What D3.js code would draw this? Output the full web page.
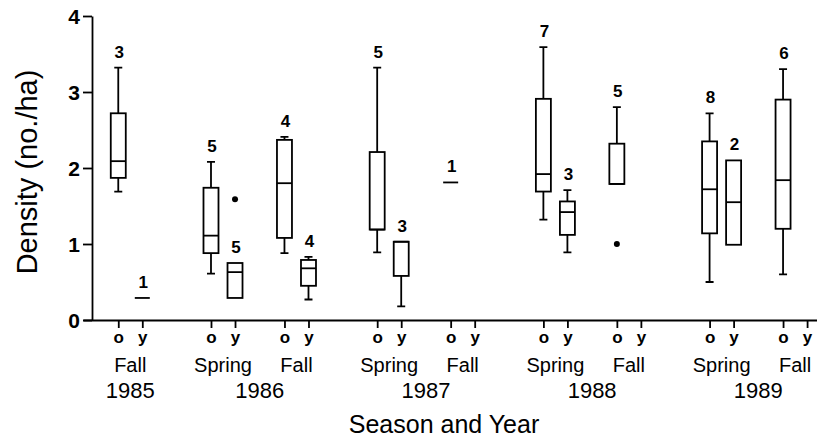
<!DOCTYPE html>
<html>
<head>
<meta charset="utf-8">
<script src="https://cdn.jsdelivr.net/npm/d3@7"></script>
<style>
  body { margin: 0; background: #fff; }
  text { font-family: "Liberation Sans", Arial, sans-serif; fill: #000; }
</style>
</head>
<body>
<svg id="chart" width="817" height="440"></svg>
<script>
// seasons along the x axis
const seasons = ['Fall', 'Spring', 'Fall', 'Spring', 'Fall', 'Spring', 'Fall', 'Spring', 'Fall'];
const seasonYears = [1985, 1986, 1986, 1987, 1987, 1988, 1988, 1989, 1989];
const ages = ['o', 'y'];
const yTicks = [0, 1, 2, 3, 4];

// one entry per box: season index, age class, sample size and five numbers
const boxSeason = [0, 0, 1, 1, 2, 2, 3, 3, 4, 5, 5, 6, 7, 7, 8];
const boxAge    = ['o', 'y', 'o', 'y', 'o', 'y', 'o', 'y', 'o', 'o', 'y', 'o', 'o', 'y', 'o'];
const boxN      = [3, 1, 5, 5, 4, 4, 5, 3, 1, 7, 3, 5, 8, 2, 6];
const boxLow    = [1.69, 0.29, 0.61, 0.29, 0.88, 0.27, 0.89, 0.18, 1.81, 1.32, 0.89, 1.79, 0.50, 0.99, 0.60];
const boxQ1     = [1.87, 0.29, 0.88, 0.29, 1.08, 0.45, 1.19, 0.58, 1.81, 1.69, 1.12, 1.79, 1.14, 0.99, 1.20];
const boxMedian = [2.09, 0.29, 1.11, 0.63, 1.80, 0.68, 1.19, 1.03, 1.81, 1.92, 1.42, 1.79, 1.72, 1.55, 1.84];
const boxQ3     = [2.72, 0.29, 1.74, 0.75, 2.37, 0.79, 2.21, 1.03, 1.81, 2.91, 1.56, 2.32, 2.35, 2.10, 2.90];
const boxHigh   = [3.32, 0.29, 2.08, 0.75, 2.41, 0.83, 3.32, 1.03, 1.81, 3.59, 1.71, 2.80, 2.72, 2.10, 3.30];

// outlying points (index of box, value)
const outlierBox   = [3, 11];
const outlierValue = [1.59, 1.00];

const yearGap = 0.262;   // extra spacing between years (in season units)
const ageOffset = 0.327; // offset of "y" from "o" (in season units)
const boxHalf = 7.5, capHalf = 4;

const svg = d3.select('#chart');

const y = d3.scaleLinear().domain([0, 4]).range([320, 16]);
const x = d3.scaleLinear().domain([-0.48, 9.51]).range([83, 817]);

const slot = i => i + yearGap * (seasonYears[i] - 1985);
const tickPos = (i, age) => slot(i) + (age === 'y' ? ageOffset : 0);

const tickVals = [];
seasons.forEach((s, i) => ages.forEach(a => tickVals.push(tickPos(i, a))));

// y axis
const yAxis = svg.append('g')
  .attr('transform', 'translate(92,0)')
  .call(d3.axisLeft(y).tickValues(yTicks).tickFormat(d3.format('d')).tickSize(9).tickSizeOuter(0).tickPadding(3));
yAxis.selectAll('text').attr('font-size', 21).attr('font-weight', 'bold').attr('dy', '0.36em');

// x axis
const xAxis = svg.append('g')
  .attr('transform', 'translate(0,320)')
  .call(d3.axisBottom(x).tickValues(tickVals).tickFormat((d, i) => ages[i % 2]).tickSize(8).tickSizeOuter(0));
xAxis.selectAll('text').attr('font-size', 17).attr('font-weight', 'bold').attr('y', 23).attr('dy', 0);

svg.selectAll('.domain, .tick line').attr('stroke', '#000').attr('stroke-width', 1.8);

// season labels
svg.selectAll('.season').data(seasons).join('text')
  .attr('class', 'season')
  .attr('x', (d, i) => x(slot(i) + ageOffset / 2))
  .attr('y', 372)
  .attr('text-anchor', 'middle')
  .attr('font-size', 20)
  .text(d => d);

// year labels
const yearList = Array.from(new Set(seasonYears));
svg.selectAll('.year').data(yearList).join('text')
  .attr('class', 'year')
  .attr('x', yr => {
    const idx = seasonYears.map((v, i) => v === yr ? i : -1).filter(i => i >= 0);
    const lo = x(tickPos(d3.min(idx), 'o')), hi = x(tickPos(d3.max(idx), 'y'));
    return (lo + hi) / 2;
  })
  .attr('y', 398)
  .attr('text-anchor', 'middle')
  .attr('font-size', 22)
  .text(d => d);

// axis titles
svg.append('text')
  .attr('x', 444).attr('y', 433)
  .attr('text-anchor', 'middle')
  .attr('font-size', 25)
  .text('Season and Year');

svg.append('text')
  .attr('transform', 'translate(37,172) rotate(-90)')
  .attr('text-anchor', 'middle')
  .attr('font-size', 29)
  .text('Density (no./ha)');

// boxes
const boxes = boxN.map((n, j) => ({
  cx: x(tickPos(boxSeason[j], boxAge[j])),
  n, lo: boxLow[j], q1: boxQ1[j], med: boxMedian[j], q3: boxQ3[j], hi: boxHigh[j]
}));

const g = svg.append('g').attr('stroke', '#000').attr('stroke-width', 1.8).attr('fill', 'none');

g.selectAll('.box').data(boxes.filter(d => d.q3 > d.q1)).join('rect')
  .attr('class', 'box')
  .attr('x', d => d.cx - boxHalf)
  .attr('width', boxHalf * 2)
  .attr('y', d => y(d.q3))
  .attr('height', d => y(d.q1) - y(d.q3));

g.selectAll('.median').data(boxes).join('line')
  .attr('class', 'median')
  .attr('x1', d => d.cx - boxHalf).attr('x2', d => d.cx + boxHalf)
  .attr('y1', d => y(d.med)).attr('y2', d => y(d.med));

g.selectAll('.whiskerHi').data(boxes.filter(d => d.hi > d.q3)).join('path')
  .attr('class', 'whiskerHi')
  .attr('d', d => `M${d.cx},${y(d.q3)}V${y(d.hi)}M${d.cx - capHalf},${y(d.hi)}H${d.cx + capHalf}`);

g.selectAll('.whiskerLo').data(boxes.filter(d => d.lo < d.q1)).join('path')
  .attr('class', 'whiskerLo')
  .attr('d', d => `M${d.cx},${y(d.q1)}V${y(d.lo)}M${d.cx - capHalf},${y(d.lo)}H${d.cx + capHalf}`);

svg.selectAll('.outlier').data(outlierBox).join('circle')
  .attr('class', 'outlier')
  .attr('cx', b => boxes[b].cx)
  .attr('cy', (b, k) => y(outlierValue[k]))
  .attr('r', 3)
  .attr('fill', '#000');

svg.selectAll('.count').data(boxes).join('text')
  .attr('class', 'count')
  .attr('x', d => d.cx + 1)
  .attr('y', d => y(Math.max(d.hi, d.q3)) - 10)
  .attr('text-anchor', 'middle')
  .attr('font-size', 17)
  .attr('font-weight', 'bold')
  .text(d => d.n);
</script>
</body>
</html>
